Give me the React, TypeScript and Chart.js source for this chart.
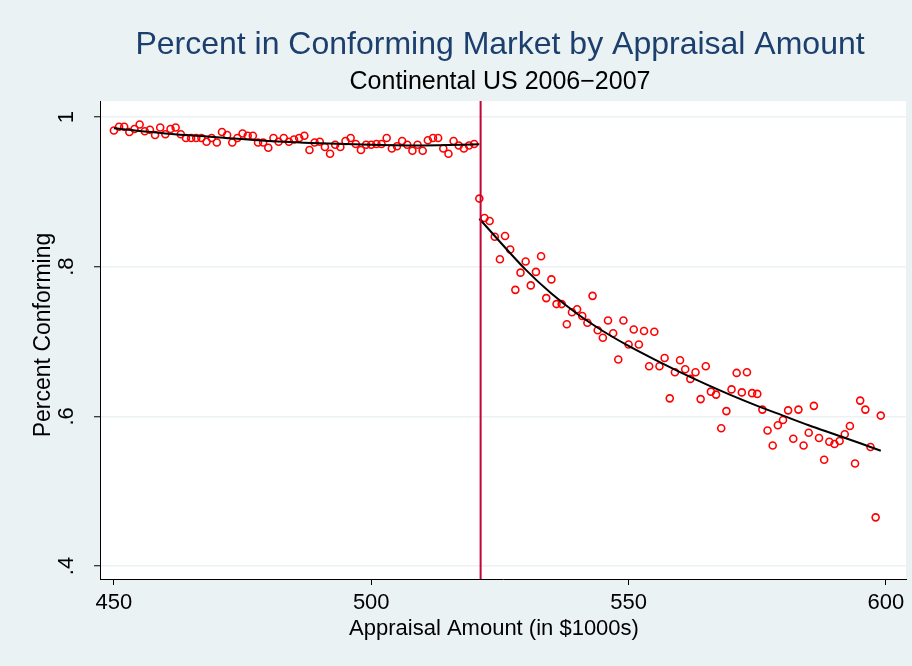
import React, { useEffect, useRef } from "react";
import { Chart, registerables } from "chart.js";

Chart.register(...registerables);

// ---------- data ----------
const titleText = "Percent in Conforming Market by Appraisal Amount";
const subtitleText = "Continental US 2006\u22122007";
const xTitleText = "Appraisal Amount (in $1000s)";
const yTitleText = "Percent Conforming";

const xTickValues = [450, 500, 550, 600];
const xTickLabels = ["450", "500", "550", "600"];
const yTickValues = [0.4, 0.6, 0.8, 1.0];
const yTickLabels = [".4", ".6", ".8", "1"];

const cutoff = 521.25;

const amountsLeft = [
  450, 451, 452, 453, 454, 455, 456, 457, 458, 459,
  460, 461, 462, 463, 464, 465, 466, 467, 468, 469,
  470, 471, 472, 473, 474, 475, 476, 477, 478, 479,
  480, 481, 482, 483, 484, 485, 486, 487, 488, 489,
  490, 491, 492, 493, 494, 495, 496, 497, 498, 499,
  500, 501, 502, 503, 504, 505, 506, 507, 508, 509,
  510, 511, 512, 513, 514, 515, 516, 517, 518, 519,
  520,
];
const conformingLeft = [
  0.982, 0.987, 0.987, 0.980, 0.984, 0.990, 0.981, 0.983, 0.976, 0.986,
  0.977, 0.984, 0.986, 0.977, 0.972, 0.972, 0.972, 0.972, 0.967, 0.972,
  0.966, 0.980, 0.976, 0.966, 0.972, 0.978, 0.975, 0.975, 0.966, 0.966,
  0.959, 0.972, 0.967, 0.972, 0.967, 0.970, 0.972, 0.975, 0.956, 0.966,
  0.967, 0.960, 0.951, 0.963, 0.960, 0.968, 0.972, 0.964, 0.956, 0.963,
  0.963, 0.964, 0.964, 0.972, 0.958, 0.961, 0.968, 0.963, 0.955, 0.963,
  0.955, 0.969, 0.972, 0.972, 0.958, 0.951, 0.968, 0.962, 0.958, 0.962,
  0.964,
];

const amountsRight = [
  521, 522, 523, 524, 525, 526, 527, 528, 529,
  530, 531, 532, 533, 534, 535, 536, 537, 538, 539,
  540, 541, 542, 543, 544, 545, 546, 547, 548, 549,
  550, 551, 552, 553, 554, 555, 556, 557, 558, 559,
  560, 561, 562, 563, 564, 565, 566, 567, 568, 569,
  570, 571, 572, 573, 574, 575, 576, 577, 578, 579,
  580, 581, 582, 583, 584, 585, 586, 587, 588, 589,
  590, 591, 592, 593, 594, 595, 596, 597, 598, 599,
];
const conformingRight = [
  0.891, 0.865, 0.861, 0.840, 0.810, 0.841, 0.823, 0.769, 0.792,
  0.807, 0.775, 0.793, 0.814, 0.758, 0.783, 0.750, 0.750, 0.723, 0.739,
  0.743, 0.734, 0.725, 0.761, 0.715, 0.705, 0.728, 0.711, 0.676, 0.728,
  0.696, 0.716, 0.696, 0.714, 0.667, 0.713, 0.667, 0.678, 0.624, 0.659,
  0.675, 0.663, 0.650, 0.659, 0.623, 0.667, 0.633, 0.629, 0.584, 0.607,
  0.636, 0.658, 0.632, 0.659, 0.631, 0.630, 0.609, 0.581, 0.561, 0.588,
  0.595, 0.608, 0.570, 0.609, 0.561, 0.578, 0.614, 0.571, 0.542, 0.566,
  0.563, 0.567, 0.576, 0.587, 0.537, 0.621, 0.609, 0.559, 0.465, 0.601,
];

const fitLeftX = [450, 460, 470, 480, 490, 500, 510, 521];
const fitLeftY = [0.985, 0.978, 0.973, 0.968, 0.965, 0.963, 0.962, 0.9635];
const fitRightX = [521, 530, 535, 540, 545, 550, 555, 560, 565, 570, 575, 580, 585, 590, 595, 599];
const fitRightY = [0.864, 0.796, 0.764, 0.737, 0.714, 0.694, 0.676, 0.659, 0.643, 0.628, 0.614, 0.601, 0.588, 0.576, 0.564, 0.554];

const X_MIN = 447.3;
const X_MAX = 603.9;
const Y_MIN = 0.3826;
const Y_MAX = 1.0214;

// ---------- styles ----------
const OUTER_BG = "#eaf2f3";
const FONT = '"Liberation Sans", Arial, Helvetica, sans-serif';
const TITLE_COLOR = "#1c3f6e";
const POINT_COLOR = "#ff0000";
const LINE_COLOR = "#c10534";

export default function App() {
  const ref = useRef<HTMLCanvasElement | null>(null);

  useEffect(() => {
    document.body.style.margin = "0";
    const canvas = ref.current;
    if (!canvas) return;

    const stataPlugin = {
      id: "stataDecor",
      beforeDraw(chart: any) {
        const { ctx, chartArea: ca } = chart;
        ctx.save();
        ctx.fillStyle = OUTER_BG;
        ctx.fillRect(0, 0, chart.width, chart.height);
        ctx.fillStyle = "#ffffff";
        ctx.fillRect(ca.left, ca.top, ca.right - ca.left, ca.bottom - ca.top);
        ctx.restore();
      },
      afterDraw(chart: any) {
        const { ctx, chartArea: ca } = chart;
        const xs = chart.scales.x;
        const ys = chart.scales.y;
        const cx = (ca.left + ca.right) / 2;
        const cy = (ca.top + ca.bottom) / 2;
        ctx.save();
        ctx.textAlign = "center";
        ctx.textBaseline = "middle";

        ctx.fillStyle = TITLE_COLOR;
        ctx.font = `32px ${FONT}`;
        ctx.fillText(titleText, cx - 3, 45);

        ctx.fillStyle = "#000000";
        ctx.font = `25px ${FONT}`;
        ctx.fillText(subtitleText, cx - 3, 82);

        ctx.font = `22px ${FONT}`;
        xTickValues.forEach((v, i) => {
          ctx.fillText(xTickLabels[i], xs.getPixelForValue(v), 603);
        });
        ctx.fillText(xTitleText, cx - 9, 629);

        yTickValues.forEach((v, i) => {
          ctx.save();
          ctx.translate(67, ys.getPixelForValue(v));
          ctx.rotate(-Math.PI / 2);
          ctx.fillText(yTickLabels[i], 0, 0);
          ctx.restore();
        });

        ctx.save();
        ctx.font = `23px ${FONT}`;
        ctx.translate(44, cy - 5);
        ctx.rotate(-Math.PI / 2);
        ctx.fillText(yTitleText, 0, 0);
        ctx.restore();

        ctx.restore();
      },
    };

    const chart = new Chart(canvas, {
      type: "scatter",
      data: {
        datasets: [
          {
            type: "line",
            label: "cutoff",
            data: [
              { x: cutoff, y: Y_MIN },
              { x: cutoff, y: Y_MAX },
            ],
            borderColor: LINE_COLOR,
            borderWidth: 2,
            pointRadius: 0,
            fill: false,
          },
          {
            type: "line",
            label: "fit left",
            data: fitLeftX.map((x, i) => ({ x, y: fitLeftY[i] })),
            borderColor: "#000000",
            borderWidth: 2,
            pointRadius: 0,
            cubicInterpolationMode: "monotone",
            fill: false,
          },
          {
            type: "line",
            label: "fit right",
            data: fitRightX.map((x, i) => ({ x, y: fitRightY[i] })),
            borderColor: "#000000",
            borderWidth: 2,
            pointRadius: 0,
            cubicInterpolationMode: "monotone",
            fill: false,
          },
          {
            label: "below limit",
            data: amountsLeft.map((x, i) => ({ x, y: conformingLeft[i] })),
            backgroundColor: "rgba(0,0,0,0)",
            borderColor: POINT_COLOR,
            borderWidth: 1.6,
            pointRadius: 3.5,
          },
          {
            label: "above limit",
            data: amountsRight.map((x, i) => ({ x, y: conformingRight[i] })),
            backgroundColor: "rgba(0,0,0,0)",
            borderColor: POINT_COLOR,
            borderWidth: 1.6,
            pointRadius: 3.5,
          },
        ],
      },
      options: {
        responsive: false,
        animation: false,
        devicePixelRatio: 1,
        layout: { padding: { left: 94, right: 6, top: 101, bottom: 81 } },
        plugins: {
          legend: { display: false },
          tooltip: { enabled: false },
          title: { display: false },
        },
        scales: {
          x: {
            type: "linear",
            min: X_MIN,
            max: X_MAX,
            afterBuildTicks: (s: any) => {
              s.ticks = xTickValues.map((v) => ({ value: v }));
            },
            ticks: { display: false },
            grid: {
              drawOnChartArea: false,
              drawTicks: true,
              tickLength: 6,
              tickColor: "#000000",
              tickWidth: 1,
            },
            border: { display: true, color: "#000000", width: 1 },
          },
          y: {
            type: "linear",
            min: Y_MIN,
            max: Y_MAX,
            afterBuildTicks: (s: any) => {
              s.ticks = yTickValues.map((v) => ({ value: v }));
            },
            ticks: { display: false },
            grid: {
              drawOnChartArea: true,
              color: OUTER_BG,
              lineWidth: 1.5,
              drawTicks: true,
              tickLength: 6,
              tickColor: "#000000",
              tickWidth: 1,
            },
            border: { display: true, color: "#000000", width: 1 },
          },
        },
      },
      plugins: [stataPlugin],
    } as any);

    return () => chart.destroy();
  }, []);

  return (
    <div style={{ width: 912, height: 666 }}>
      <canvas ref={ref} width={912} height={666} style={{ display: "block" }} />
    </div>
  );
}
